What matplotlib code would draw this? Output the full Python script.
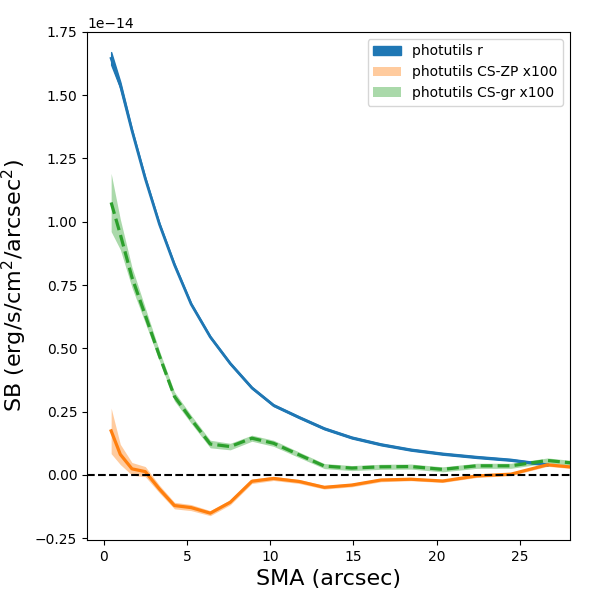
import numpy as np
import matplotlib
matplotlib.use('Agg')
import matplotlib.pyplot as plt

# semi-major axis (arcsec)
sma = [0.45, 1.0, 1.7, 2.5, 3.35, 4.25, 5.25, 6.4, 7.6, 8.9, 10.2, 11.75,
       13.25, 14.9, 16.65, 18.45, 20.35, 22.4, 24.45, 26.65, 28.6]

# surface brightness, in units of 1e-14 erg/s/cm2/arcsec2
sb_r = [1.645, 1.54, 1.36, 1.17, 0.99, 0.83, 0.675, 0.545, 0.44, 0.344, 0.275,
        0.227, 0.183, 0.147, 0.12, 0.099, 0.083, 0.070, 0.059, 0.040, np.nan]
sb_r_err = [0.025, 0.012, 0.006, 0.005, 0.004, 0.004, 0.003, 0.003, 0.003, 0.003,
            0.003, 0.003, 0.003, 0.003, 0.003, 0.003, 0.003, 0.003, 0.003, 0.003, np.nan]

sb_zp = [0.174, 0.081, 0.024, 0.013, -0.056, -0.121, -0.129, -0.151, -0.108, -0.025,
         -0.014, -0.026, -0.049, -0.040, -0.020, -0.017, -0.024, -0.004, 0.003, 0.040, 0.028]
sb_zp_err = [0.09, 0.04, 0.025, 0.02, 0.015, 0.013, 0.012, 0.01, 0.01, 0.009, 0.008,
             0.008, 0.007, 0.007, 0.007, 0.006, 0.006, 0.006, 0.006, 0.006, 0.006]

sb_gr = [1.076, 0.95, 0.78, 0.63, 0.47, 0.31, 0.22, 0.122, 0.112, 0.145, 0.125,
         0.079, 0.035, 0.027, 0.032, 0.033, 0.022, 0.036, 0.036, 0.057, 0.044]
sb_gr_err = [0.115, 0.06, 0.04, 0.03, 0.02, 0.018, 0.016, 0.015, 0.013, 0.012, 0.012,
             0.011, 0.01, 0.01, 0.01, 0.01, 0.01, 0.01, 0.01, 0.01, 0.01]

scale = 1e-14
x = np.array(sma)
r = np.array(sb_r) * scale
r_e = np.array(sb_r_err) * scale
zp = np.array(sb_zp) * scale
zp_e = np.array(sb_zp_err) * scale
gr = np.array(sb_gr) * scale
gr_e = np.array(sb_gr_err) * scale

fig, ax = plt.subplots(figsize=(6, 6), dpi=100)
fig.subplots_adjust(left=0.145, right=0.95, bottom=0.1, top=0.947)

ax.fill_between(x, r - r_e, r + r_e, color='C0', alpha=1.0, label='photutils r')
ax.plot(x, r, color='C0', lw=2)

ax.fill_between(x, zp - zp_e, zp + zp_e, color='C1', alpha=0.4, lw=0,
                label='photutils CS-ZP x100')
ax.plot(x, zp, color='C1', lw=2.3)

ax.fill_between(x, gr - gr_e, gr + gr_e, color='C2', alpha=0.4, lw=0,
                label='photutils CS-gr x100')
ax.plot(x, gr, color='C2', lw=2.3, ls='--')

ax.axhline(0, color='k', ls='--', lw=1.5)

ax.set_xlim(-1, 28)
ax.set_ylim(-0.257e-14, 1.75e-14)
ax.set_xlabel('SMA (arcsec)', fontsize=16)
ax.set_ylabel('SB (erg/s/cm$^2$/arcsec$^2$)', fontsize=16)
ax.legend(loc='upper right')

fig.savefig('out.png', dpi=100)
